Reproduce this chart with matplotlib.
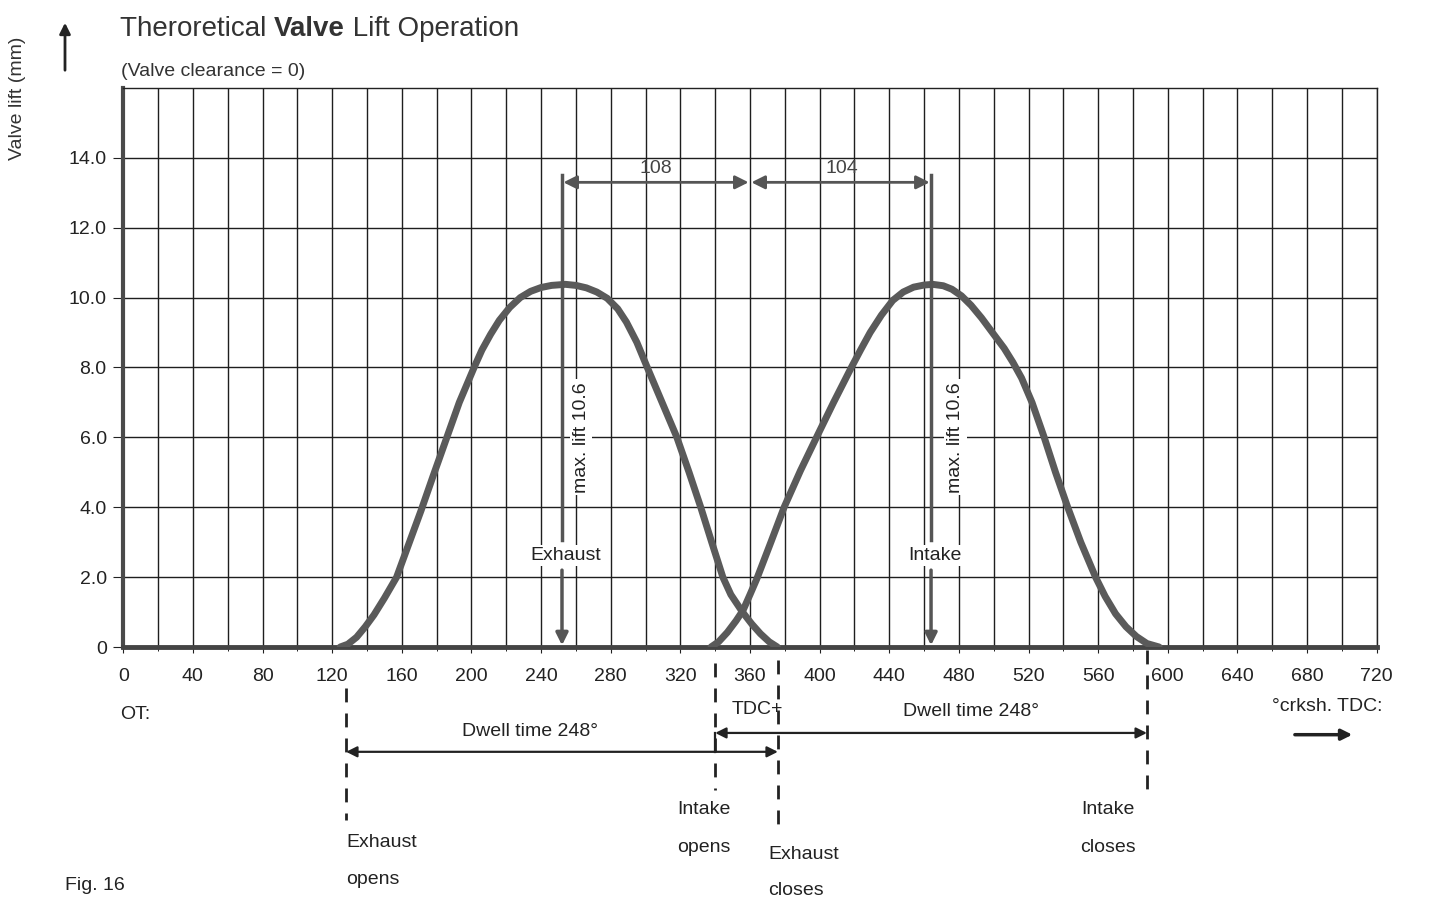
import numpy as np
import matplotlib
matplotlib.use("Agg")
import matplotlib.pyplot as plt

plt.rcParams["font.family"] = ["Liberation Sans", "DejaVu Sans"]

# values (degrees crankshaft, lift in mm)
exhaust_deg = [124.6, 129, 134, 139, 144, 150, 157, 164, 171, 178, 185.5, 193, 201.5,
               206, 211, 216, 222, 228, 234, 240, 246, 254, 260, 266, 272, 278, 284,
               289, 295, 301, 309.5, 318, 325, 331.7, 338, 344.4, 349, 355.7, 361,
               366, 371, 375.7]
exhaust_lift = [0.0, 0.08, 0.28, 0.58, 0.92, 1.4, 2.0, 2.95, 3.9, 4.9, 5.95, 7.0, 8.0,
                8.5, 8.95, 9.35, 9.72, 10.0, 10.18, 10.29, 10.35, 10.38, 10.35, 10.28,
                10.16, 9.98, 9.68, 9.3, 8.72, 8.0, 7.0, 6.0, 5.0, 4.0, 3.0, 2.0, 1.5,
                1.0, 0.66, 0.38, 0.15, 0.0]
intake_deg = [337.6, 342, 347, 352, 356, 360, 363.9, 372, 379.6, 389, 398.2, 408,
              418.2, 423.5, 429, 435.5, 442, 448, 454, 460, 465, 471, 476, 481.5, 487,
              493, 500, 506, 511, 516, 522, 529, 535.5, 542.5, 550, 558.5, 564, 570,
              576, 582, 588, 595]
intake_lift = [0.0, 0.15, 0.42, 0.75, 1.05, 1.5, 1.95, 3.0, 4.0, 5.05, 6.0, 7.0,
               8.0, 8.5, 9.0, 9.5, 9.92, 10.16, 10.3, 10.36, 10.38, 10.34, 10.24, 10.05,
               9.78, 9.42, 8.95, 8.55, 8.15, 7.7, 7.0, 6.0, 5.0, 4.0, 3.0, 2.0, 1.45,
               0.95, 0.58, 0.3, 0.1, 0.0]

exhaust_peak, intake_peak = 252, 464
exhaust_opens, exhaust_closes = 128, 376
intake_opens, intake_closes = 340, 588
tdc = 360
max_lift_text = "max. lift 10.6"
dwell_text = "Dwell time 248°"

x_ticks = np.arange(0, 721, 40)
y_ticks = np.arange(0, 15, 2)
y_ticklabels = ["0"] + [f"{v:.1f}" for v in y_ticks[1:]]

W, H = 1431, 898
fig = plt.figure(figsize=(W / 100, H / 100), dpi=100)
ax = fig.add_axes([123.3 / W, 1 - 647 / H, (1376.7 - 123.3) / W, (647 - 88) / H])
ax.set_xlim(0, 720)
ax.set_ylim(0, 16)

ink = "#222222"
curve_c = "#5a5a5a"

# grid
ax.set_xticks(x_ticks)
ax.set_xticks(np.arange(0, 721, 20), minor=True)
ax.set_yticks(y_ticks)
ax.set_yticklabels(y_ticklabels)
ax.grid(which="both", axis="x", color="#1e1e1e", lw=1.0)
ax.grid(which="major", axis="y", color="#1e1e1e", lw=1.0)
ax.set_axisbelow(True)
ax.tick_params(axis="both", which="major", labelsize=14, colors=ink)
ax.tick_params(axis="x", which="major", length=4, pad=11)
ax.tick_params(axis="x", which="minor", length=3)
ax.tick_params(axis="y", length=7, pad=5)

for side in ["top", "right"]:
    ax.spines[side].set_linewidth(1.0)
    ax.spines[side].set_color(ink)
ax.spines["left"].set_linewidth(3)
ax.spines["left"].set_color("#4a4a4a")
ax.spines["bottom"].set_linewidth(3.5)
ax.spines["bottom"].set_color("#444444")

# lift curves
ax.plot(exhaust_deg, exhaust_lift, color=curve_c, lw=5, solid_capstyle="round",
        solid_joinstyle="round", zorder=4)
ax.plot(intake_deg, intake_lift, color=curve_c, lw=5, solid_capstyle="round",
        solid_joinstyle="round", zorder=4)

# dimension arrows 108 / 104
dim_y = 13.3
for a, b in [(exhaust_peak, tdc), (tdc, intake_peak)]:
    ax.annotate("", xy=(a, dim_y), xytext=(b, dim_y),
                arrowprops=dict(arrowstyle="<|-|>", color="#555555", lw=2,
                                mutation_scale=20, shrinkA=1, shrinkB=1), zorder=5)
ax.text((exhaust_peak + tdc) / 2, dim_y + 0.15, str(tdc - exhaust_peak), ha="center",
        va="bottom", fontsize=14, color="#444444")
ax.text((tdc + intake_peak) / 2 + 1, dim_y + 0.15, str(intake_peak - tdc), ha="center",
        va="bottom", fontsize=14, color="#444444")

# peak markers with labels
for peak, name, off in [(exhaust_peak, "Exhaust", 11), (intake_peak, "Intake", 14)]:
    ax.plot([peak, peak], [3.05, dim_y + 0.2], color="#555555", lw=2.5, zorder=5)
    ax.annotate("", xy=(peak, 0.05), xytext=(peak, 2.2),
                arrowprops=dict(arrowstyle="-|>", color="#555555", lw=2.5,
                                mutation_scale=18, shrinkA=0, shrinkB=0), zorder=5)
    ax.text(peak + 2, 2.62, name, ha="center", va="center", fontsize=14, color=ink,
            bbox=dict(facecolor="white", edgecolor="none", pad=1.5), zorder=6)
    ax.text(peak + off, 6.0, max_lift_text, ha="center", va="center", rotation=90,
            fontsize=14, color=ink,
            bbox=dict(facecolor="white", edgecolor="none", pad=2), zorder=6)

# below the axis: event markers and dwell arrows
dash = (0, (5, 4))
for x, y0, y1 in [(exhaust_opens, -1.17, -4.94), (intake_opens, -0.46, -4.09),
                  (exhaust_closes, -0.37, -5.09), (intake_closes, -0.09, -4.09)]:
    ax.plot([x, x], [y0, y1], color=ink, lw=2, ls=dash, clip_on=False)

ax.annotate("", xy=(exhaust_opens, -3.0), xytext=(exhaust_closes, -3.0),
            arrowprops=dict(arrowstyle="<|-|>", color=ink, lw=1.6, mutation_scale=16,
                            shrinkA=0, shrinkB=0), annotation_clip=False)
ax.annotate("", xy=(intake_opens, -2.46), xytext=(intake_closes, -2.46),
            arrowprops=dict(arrowstyle="<|-|>", color=ink, lw=1.6, mutation_scale=16,
                            shrinkA=0, shrinkB=0), annotation_clip=False)
ax.plot([intake_opens, intake_opens], [-2.46, -3.0], color=ink, lw=1.6, clip_on=False)

txt = dict(fontsize=14, color=ink, clip_on=False)
ax.text(-2, -1.94, "OT:", ha="left", va="center", **txt)
ax.text(364, -1.8, "TDC+", ha="center", va="center", **txt)
ax.text(487, -1.86, dwell_text, ha="center", va="center", **txt)
ax.text(233.6, -2.43, dwell_text, ha="center", va="center", **txt)
ax.text(659.8, -1.69, "°crksh. TDC:", ha="left", va="center", **txt)
ax.annotate("", xy=(706, -2.51), xytext=(673, -2.51),
            arrowprops=dict(arrowstyle="-|>", color=ink, lw=2.5, mutation_scale=16,
                            shrinkA=0, shrinkB=0), annotation_clip=False)

ax.text(127.9, -5.6, "Exhaust", ha="left", va="center", **txt)
ax.text(127.9, -6.66, "opens", ha="left", va="center", **txt)
ax.text(333.6, -4.66, "Intake", ha="center", va="center", **txt)
ax.text(333.6, -5.74, "opens", ha="center", va="center", **txt)
ax.text(370.3, -5.94, "Exhaust", ha="left", va="center", **txt)
ax.text(370.3, -6.97, "closes", ha="left", va="center", **txt)
ax.text(565.6, -4.66, "Intake", ha="center", va="center", **txt)
ax.text(565.6, -5.74, "closes", ha="center", va="center", **txt)

# titles and y label
t1 = fig.text(120 / W, 1 - 36 / H, "Theroretical ", fontsize=20, color="#333333",
              ha="left", va="baseline")
t2 = fig.text(0, 0, "Valve", fontsize=20, color="#333333", fontweight="bold",
              ha="left", va="baseline")
t3 = fig.text(0, 0, " Lift Operation", fontsize=20, color="#333333",
              ha="left", va="baseline")
fig.canvas.draw()
r = fig.canvas.get_renderer()
bb1 = t1.get_window_extent(r)
t2.set_x(bb1.x1 / W)
t2.set_y(1 - 36 / H)
bb2 = t2.get_window_extent(r)
t3.set_x(bb2.x1 / W)
t3.set_y(1 - 36 / H)

fig.text(121 / W, 1 - 76 / H, "(Valve clearance = 0)", fontsize=14, color="#333333",
         ha="left", va="baseline")
fig.text(18 / W, 1 - 98 / H, "Valve lift (mm)", fontsize=14, color="#333333",
         rotation=90, ha="center", va="center")
fig.add_artist(matplotlib.patches.FancyArrowPatch(
    (65 / W, 1 - 73 / H), (65 / W, 1 - 20 / H), transform=fig.transFigure,
    arrowstyle="-|>", mutation_scale=16, color=ink, lw=2))
fig.text(65 / W, 1 - 894 / H, "Fig. 16", fontsize=14, color=ink, ha="left",
         va="bottom")

fig.savefig("out.png", dpi=100)
